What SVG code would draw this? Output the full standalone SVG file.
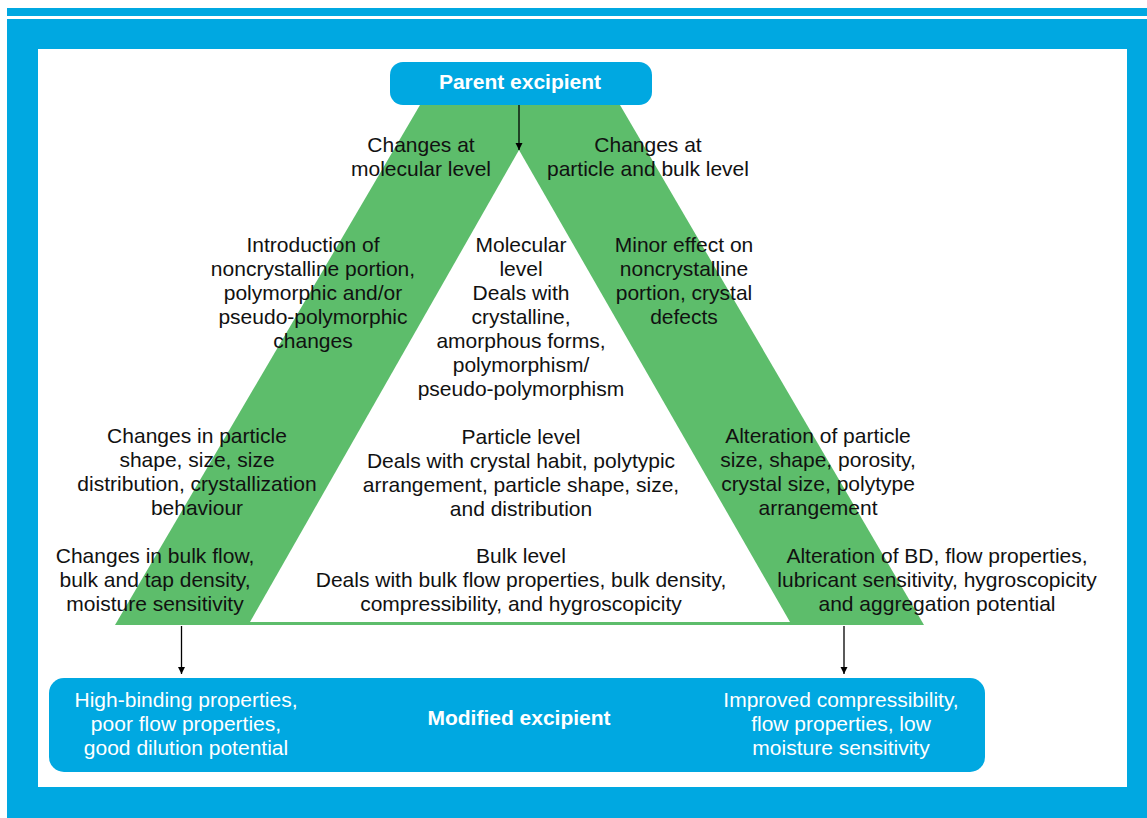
<svg xmlns="http://www.w3.org/2000/svg" width="1147" height="818" viewBox="0 0 1147 818">
  <style>
    .t { font-family: "Liberation Sans", Arial, sans-serif; font-size: 21px; fill: #111; text-anchor: middle; }
    .w { fill: #ffffff; }
    .b { font-weight: bold; fill: #ffffff; }
    .blue { fill: #00a8e1; }
    .green { fill: #5dbd6b; }
    .conn { stroke: #000; stroke-width: 1.3; fill: none; marker-end: url(#arrow); }
  </style>
  <defs>
    <marker id="arrow" viewBox="0 0 10 10" refX="10" refY="5" markerWidth="7" markerHeight="14" markerUnits="userSpaceOnUse" orient="auto">
      <path d="M0,0 L10,5 L0,10 Z" fill="#000"/>
    </marker>
    <linearGradient id="axis" x1="0" y1="0" x2="0" y2="1">
      <stop offset="0" stop-color="#8fd39a"/>
      <stop offset="1" stop-color="#eaf7ec"/>
    </linearGradient>
  </defs>

  <!-- frame -->
  <rect x="0" y="0" width="1147" height="818" fill="#ffffff"/>
  <rect class="blue" x="7" y="8" width="1140" height="8"/>
  <rect class="blue" x="7" y="19" width="1140" height="799"/>
  <rect x="38" y="49" width="1089" height="738" fill="#ffffff"/>

  <!-- green band triangle with white interior -->
  <g id="triangle">
    <polygon class="green" points="420,105 620,105 924,625 115,625"/>
    <polygon points="519,150 790,622 250,622" fill="#ffffff"/>
    <line x1="519" y1="150" x2="519" y2="622" stroke="url(#axis)" stroke-width="2"/>
  </g>

  <!-- connectors -->
  <g id="connectors">
    <line class="conn" x1="519" y1="105" x2="519" y2="150"/>
    <line class="conn" x1="181.5" y1="626" x2="181.5" y2="674"/>
    <line class="conn" x1="844" y1="626" x2="844" y2="674"/>
  </g>

  <g id="parent">
    <rect class="blue" x="390" y="62" width="262" height="43" rx="13"/>
    <text class="t b" x="520" y="89">Parent excipient</text>
  </g>

  <g id="molecular-change">
    <text class="t" x="421" y="152">Changes at</text>
    <text class="t" x="421" y="176">molecular level</text>
  </g>
  <g id="particle-bulk-change">
    <text class="t" x="648" y="152">Changes at</text>
    <text class="t" x="648" y="176">particle and bulk level</text>
  </g>

  <g id="intro-noncrystalline">
    <text class="t" x="313" y="252">Introduction of</text>
    <text class="t" x="313" y="276">noncrystalline portion,</text>
    <text class="t" x="313" y="300">polymorphic and/or</text>
    <text class="t" x="313" y="324">pseudo-polymorphic</text>
    <text class="t" x="313" y="348">changes</text>
  </g>
  <g id="molecular-level">
    <text class="t" x="521" y="252">Molecular</text>
    <text class="t" x="521" y="276">level</text>
    <text class="t" x="521" y="300">Deals with</text>
    <text class="t" x="521" y="324">crystalline,</text>
    <text class="t" x="521" y="348">amorphous forms,</text>
    <text class="t" x="521" y="372">polymorphism/</text>
    <text class="t" x="521" y="396">pseudo-polymorphism</text>
  </g>
  <g id="minor-effect">
    <text class="t" x="684" y="252">Minor effect on</text>
    <text class="t" x="684" y="276">noncrystalline</text>
    <text class="t" x="684" y="300">portion, crystal</text>
    <text class="t" x="684" y="324">defects</text>
  </g>

  <g id="particle-changes">
    <text class="t" x="197" y="443">Changes in particle</text>
    <text class="t" x="197" y="467">shape, size, size</text>
    <text class="t" x="197" y="491">distribution, crystallization</text>
    <text class="t" x="197" y="515">behaviour</text>
  </g>
  <g id="particle-level">
    <text class="t" x="521" y="444">Particle level</text>
    <text class="t" x="521" y="468">Deals with crystal habit, polytypic</text>
    <text class="t" x="521" y="492">arrangement, particle shape, size,</text>
    <text class="t" x="521" y="516">and distribution</text>
  </g>
  <g id="particle-alteration">
    <text class="t" x="818" y="443">Alteration of particle</text>
    <text class="t" x="818" y="467">size, shape, porosity,</text>
    <text class="t" x="818" y="491">crystal size, polytype</text>
    <text class="t" x="818" y="515">arrangement</text>
  </g>

  <g id="bulk-changes">
    <text class="t" x="155" y="563">Changes in bulk flow,</text>
    <text class="t" x="155" y="587">bulk and tap density,</text>
    <text class="t" x="155" y="611">moisture sensitivity</text>
  </g>
  <g id="bulk-level">
    <text class="t" x="521" y="563">Bulk level</text>
    <text class="t" x="521" y="587">Deals with bulk flow properties, bulk density,</text>
    <text class="t" x="521" y="611">compressibility, and hygroscopicity</text>
  </g>
  <g id="bulk-alteration">
    <text class="t" x="937" y="563">Alteration of BD, flow properties,</text>
    <text class="t" x="937" y="587">lubricant sensitivity, hygroscopicity</text>
    <text class="t" x="937" y="611">and aggregation potential</text>
  </g>

  <g id="modified">
    <rect class="blue" x="49" y="678" width="936" height="94" rx="15"/>
    <text class="t w" x="186" y="707">High-binding properties,</text>
    <text class="t w" x="186" y="731">poor flow properties,</text>
    <text class="t w" x="186" y="755">good dilution potential</text>
    <text class="t b" x="519" y="725">Modified excipient</text>
    <text class="t w" x="841" y="707">Improved compressibility,</text>
    <text class="t w" x="841" y="731">flow properties, low</text>
    <text class="t w" x="841" y="755">moisture sensitivity</text>
  </g>
</svg>
